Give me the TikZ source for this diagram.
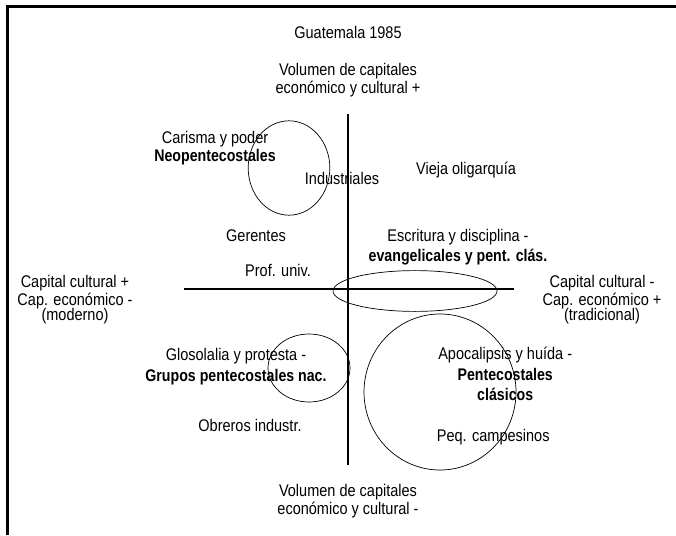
\documentclass[tikz,border=0pt]{standalone}
\usepackage{fontspec}
\setmainfont[FakeStretch=0.86,BoldFeatures={FakeStretch=0.84}]{Liberation Sans}
\usepackage{tikz}
\usetikzlibrary{positioning}
\tikzstyle{lbl}   = [align=center,inner sep=1pt,font=\fontsize{12}{13}\selectfont]
\tikzstyle{tight} = [font=\fontsize{12}{11.2}\selectfont]
\tikzstyle{loose} = [font=\fontsize{12}{14.6}\selectfont]
\tikzstyle{axis}  = [line width=1.3pt]
\tikzstyle{zone}  = [line width=0.5pt]

\begin{document}
\begin{tikzpicture}
        \useasboundingbox (0,0) rectangle (16.9,-13.375);
        \draw[line width=2.1pt] (0.19,-13.375) |- (16.9,-0.16);
        \node[lbl] (title) at (8.7,-0.8) {Guatemala 1985};

        % axes
        \coordinate (N) at (8.7,-2.85);
        \coordinate (S) at (8.7,-11.625);
        \coordinate (W) at (4.6,-7.23);
        \coordinate (E) at (12.85,-7.23);
        \draw[axis] (N) -- (S);
        \draw[axis] (W) -- (E);
        \node[lbl] (ntop) at (8.7,-2.0) {Volumen de capitales\\econ\'omico y cultural +};
        \node[lbl] (nbot) at (8.7,-12.53) {Volumen de capitales\\econ\'omico y cultural -};
        \node[lbl,tight] (west) at (1.875,-7.5) {Capital cultural +\\Cap. econ\'omico -\\(moderno)};
        \node[lbl,tight] (east) at (15.05,-7.5) {Capital cultural -\\Cap. econ\'omico +\\(tradicional)};

        % social positions
        \node[lbl] (indus) at (8.55,-4.47) {Industriales};
        \node[lbl] (oliga) at (11.65,-4.25) {Vieja oligarqu\'ia};
        \node[lbl] (geren) at (6.4,-5.88) {Gerentes};
        \node[lbl] (profu) at (6.95,-6.77) {Prof. univ.};
        \node[lbl] (obrer) at (6.25,-10.63) {Obreros industr.};
        \node[lbl] (campe) at (12.33,-10.93) {Peq. campesinos};

        % religious groups
        \node[lbl] (neo) at (5.375,-3.7) {Carisma y poder\\\textbf{Neopentecostales}};
        \node[lbl,loose] (evan) at (11.45,-6.18) {Escritura y disciplina -\\\textbf{evangelicales y pent. cl\'as.}};
        \node[lbl,loose] (glos) at (5.9,-9.17) {Glosolalia y protesta -\\\textbf{Grupos pentecostales nac.}};
        \node[lbl,loose] (apoc) at (12.63,-9.35) {Apocalipsis y hu\'ida -\\\textbf{Pentecostales}\\\textbf{cl\'asicos}};

        \draw[zone] (7.225,-4.2) ellipse (1.02 and 1.18);
        \draw[zone] (10.375,-7.275) ellipse (2.05 and 0.51);
        \draw[zone] (7.725,-9.2) ellipse (1.025 and 0.85);
        \draw[zone] (11.0,-9.8) ellipse (1.9 and 1.95);
\end{tikzpicture}
\end{document}
